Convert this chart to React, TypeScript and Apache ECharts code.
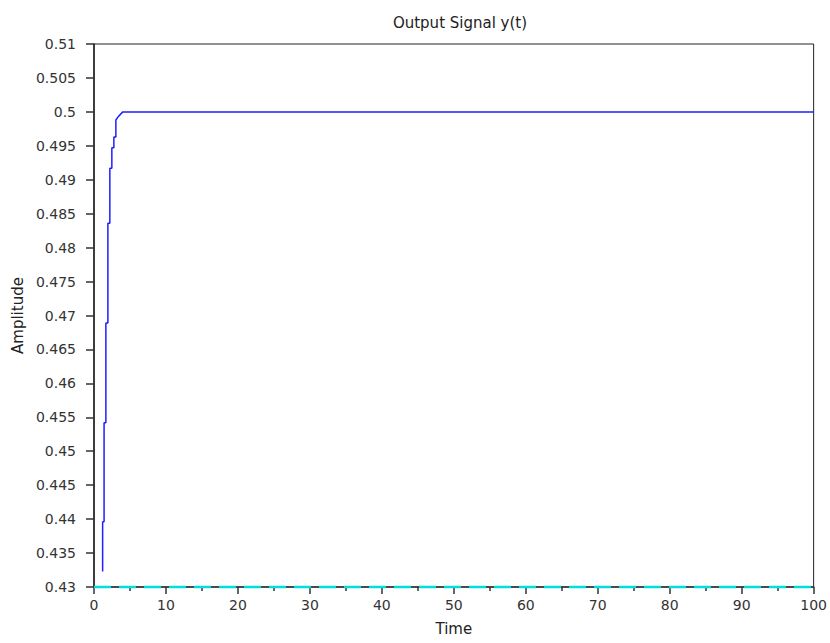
import React, { useEffect, useRef } from "react";
import * as echarts from "echarts";

const titleText = "Output Signal y(t)";
const xName = "Time";
const yName = "Amplitude";

// Output signal y(t): fast staircase rise then steady at 0.5
const outputT = [1.2, 1.2, 1.4, 1.4, 1.65, 1.65, 1.93, 1.93, 2.2, 2.2, 2.48, 2.48, 2.76, 2.76, 3.04, 3.04, 3.3, 4.0, 100];
const outputY = [0.4323, 0.4396, 0.4396, 0.4542, 0.4542, 0.4689, 0.4689, 0.4836, 0.4836, 0.4917, 0.4917, 0.4947, 0.4947, 0.4963, 0.4963, 0.4988, 0.4992, 0.5, 0.5];

// Reference (dashed cyan) line
const refT = [0, 100];
const refY = [0.43, 0.43];

const xMin = 0, xMax = 100, xStep = 10;
const yMin = 0.43, yMax = 0.51, yStep = 0.005;

export default function App() {
  const ref = useRef<HTMLDivElement>(null);
  useEffect(() => {
    if (!ref.current) return;
    const chart = echarts.init(ref.current, null, { renderer: "svg" });
    const font = "DejaVu Sans";
    const labelColor = "#333";
    chart.setOption({
      animation: false,
      backgroundColor: "#fff",
      textStyle: { fontFamily: font },
      title: {
        text: titleText,
        left: 455,
        top: 10,
        textAlign: "center",
        textStyle: { fontFamily: font, fontSize: 15, fontWeight: "normal", color: "#222" },
      },
      grid: {
        left: 94,
        right: 14,
        top: 44,
        bottom: 56,
        show: true,
        borderColor: "#222",
        borderWidth: 1,
        backgroundColor: "transparent",
      },
      xAxis: {
        type: "value",
        min: xMin,
        max: xMax,
        interval: xStep,
        name: xName,
        nameLocation: "middle",
        nameGap: 34,
        nameTextStyle: { fontFamily: font, fontSize: 15, color: "#222" },
        axisLine: { show: true, lineStyle: { color: "#333", width: 1.5 } },
        axisTick: { show: true, inside: false, length: 7, lineStyle: { color: "#333", width: 1.5 } },
        minorTick: { show: true, splitNumber: 2, length: 4, lineStyle: { color: "#333", width: 1.5 } },
        axisLabel: { margin: 11, fontFamily: font, fontSize: 14, color: labelColor },
        splitLine: { show: false },
      },
      yAxis: {
        type: "value",
        min: yMin,
        max: yMax,
        interval: yStep,
        name: yName,
        nameLocation: "middle",
        nameGap: 68,
        nameTextStyle: { fontFamily: font, fontSize: 15, color: "#222" },
        axisLine: { show: true, lineStyle: { color: "#222", width: 1.5 } },
        axisTick: { show: true, inside: false, length: 8, lineStyle: { color: "#333", width: 1.5 } },
        axisLabel: {
          margin: 18,
          fontFamily: font,
          fontSize: 14,
          color: labelColor,
          formatter: (v: number) => String(parseFloat(v.toFixed(4))),
        },
        splitLine: { show: false },
      },
      series: [
        {
          type: "line",
          data: refT.map((t, i) => [t, refY[i]]),
          showSymbol: false,
          clip: false,
          z: 3,
          lineStyle: { color: "#00dede", width: 2.5, type: [17, 8] },
        },
        {
          type: "line",
          data: outputT.map((t, i) => [t, outputY[i]]),
          showSymbol: false,
          z: 4,
          lineStyle: { color: "#1f1fff", width: 1.5 },
        },
      ],
    });
    return () => chart.dispose();
  }, []);
  return <div ref={ref} style={{ width: 830, height: 643, position: "absolute", left: 0, top: 0 }} />;
}
